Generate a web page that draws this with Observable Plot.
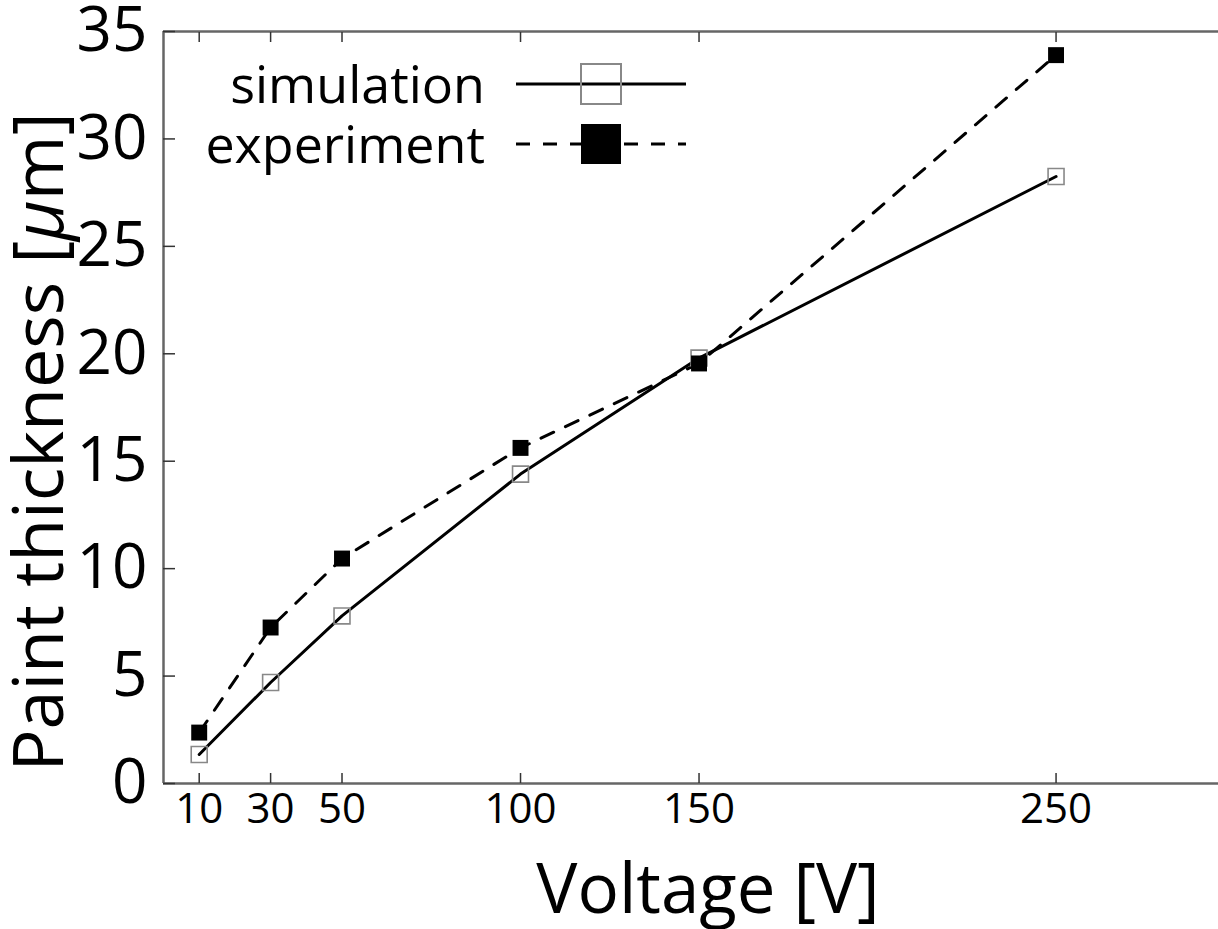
<!DOCTYPE html>
<html>
<head>
<meta charset="utf-8">
<script src="https://cdn.jsdelivr.net/npm/d3@7"></script>
<script src="https://cdn.jsdelivr.net/npm/@observablehq/plot@0.6"></script>
<style>
  html, body { margin: 0; padding: 0; background: #fff; overflow: hidden; }
  #chart { position: relative; width: 1218px; height: 929px; }
  svg { font-family: "Open Sans", sans-serif; }
</style>
</head>
<body>
<div id="chart"></div>
<script>
// ---- data ----
const voltages = [10, 30, 50, 100, 150, 250];
const simulation = [1.35, 4.7, 7.8, 14.4, 19.8, 28.25];
const experiment = [2.37, 7.26, 10.47, 15.62, 19.55, 33.9];
const xTicks = [10, 30, 50, 100, 150, 250];
const yTicks = [0, 5, 10, 15, 20, 25, 30, 35];
const seriesNames = ["simulation", "experiment"];
const xTitle = "Voltage [V]";
const yTitleParts = ["Paint thickness [", "μ", "m]"];

const simData = voltages.map((v, i) => ({v, t: simulation[i]}));
const expData = voltages.map((v, i) => ({v, t: experiment[i]}));

const W = 1218, H = 929;
const frameColor = "#666";
const tickColor = "#333";

const chart = Plot.plot({
  width: W,
  height: H,
  marginLeft: 163,
  marginRight: 0,
  marginTop: 31,
  marginBottom: 146,
  style: {fontFamily: "Open Sans, sans-serif", background: "white", overflow: "visible"},
  x: {domain: [0, 295.5], label: null},
  y: {domain: [0, 35], label: null},
  marks: [
    // frame (left, bottom, top)
    Plot.ruleY([0, 35], {stroke: frameColor, strokeWidth: 2.5}),
    Plot.ruleX([0], {stroke: frameColor, strokeWidth: 2.5}),
    // inward ticks
    Plot.axisX({anchor: "bottom", ticks: xTicks, tickSize: -10, tickFormat: () => "", stroke: tickColor, strokeWidth: 1.5, label: null}),
    Plot.axisX({anchor: "top", ticks: xTicks, tickSize: -10, tickFormat: () => "", stroke: tickColor, strokeWidth: 1.5, label: null}),
    Plot.axisY({anchor: "left", ticks: yTicks, tickSize: -12, tickFormat: () => "", stroke: tickColor, strokeWidth: 1.5, label: null}),
    // tick labels
    Plot.axisX({anchor: "bottom", ticks: xTicks, tickSize: 0, tickPadding: 10, fontSize: 42, fill: "#000", label: null, tickFormat: d => String(d)}),
    Plot.axisY({anchor: "left", ticks: yTicks, tickSize: 0, tickPadding: 16, fontSize: 62, fill: "#000", label: null, tickFormat: d => String(d)}),
    // series
    Plot.line(simData, {x: "v", y: "t", stroke: "#000", strokeWidth: 3}),
    Plot.line(expData, {x: "v", y: "t", stroke: "#000", strokeWidth: 3, strokeDasharray: "14,13"}),
    Plot.dot(simData, {x: "v", y: "t", symbol: "square", r: 9, fill: "none", stroke: "#888", strokeWidth: 1.6}),
    Plot.dot(expData, {x: "v", y: "t", symbol: "square", r: 9, fill: "#000", stroke: "none"})
  ]
});

document.getElementById("chart").appendChild(chart);
const svg = d3.select(chart);

// axis titles
svg.append("text")
  .attr("x", 708).attr("y", 913)
  .attr("text-anchor", "middle")
  .attr("font-size", 69)
  .attr("fill", "#000")
  .text(xTitle);

const yt = svg.append("text")
  .attr("transform", "translate(63,442) rotate(-90)")
  .attr("text-anchor", "middle")
  .attr("font-size", 70)
  .attr("fill", "#000");
yt.append("tspan").text(yTitleParts[0]);
yt.append("tspan").attr("font-style", "italic").text(yTitleParts[1]);
yt.append("tspan").text(yTitleParts[2]);

// legend (layout overlay)
const leg = svg.append("g").attr("class", "legend");
const rows = [
  {name: seriesNames[0], y: 84, dash: null, fill: "white", stroke: "#888", sw: 2},
  {name: seriesNames[1], y: 144, dash: "14,13", fill: "#000", stroke: "#000", sw: 0}
];
rows.forEach(r => {
  leg.append("text")
    .attr("x", 485).attr("y", r.y + 19)
    .attr("text-anchor", "end")
    .attr("font-size", 52)
    .attr("fill", "#000")
    .text(r.name);
  leg.append("line")
    .attr("x1", 516).attr("x2", 686)
    .attr("y1", r.y).attr("y2", r.y)
    .attr("stroke", "#000").attr("stroke-width", 3)
    .attr("stroke-dasharray", r.dash);
  leg.append("rect")
    .attr("x", 581).attr("y", r.y - 20)
    .attr("width", 40).attr("height", 40)
    .attr("fill", r.name === seriesNames[0] ? "none" : "#000")
    .attr("stroke", r.stroke).attr("stroke-width", r.sw);
});
</script>
</body>
</html>
